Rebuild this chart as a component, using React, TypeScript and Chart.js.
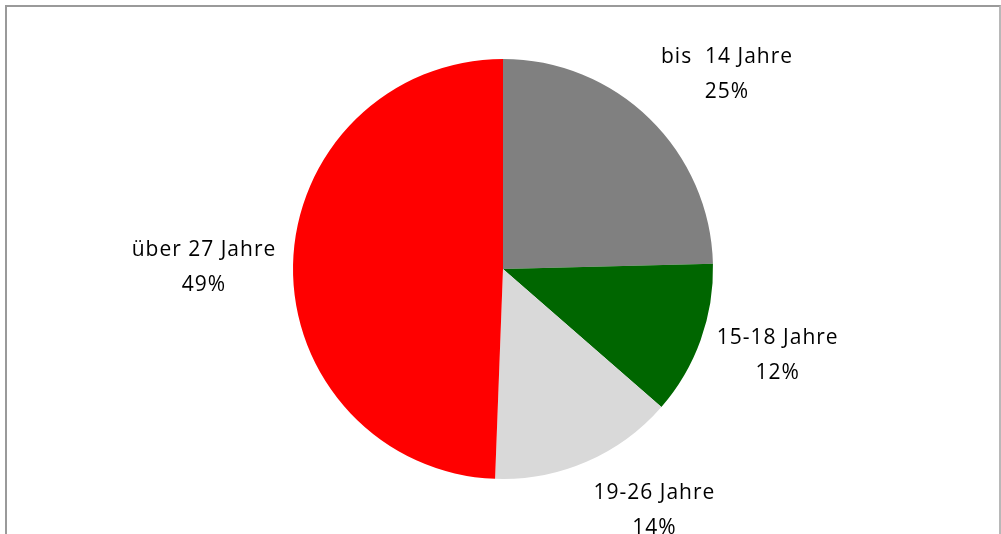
import React, { useEffect, useRef } from "react";
import { Chart, registerables } from "chart.js";

Chart.register(...registerables);

const categories = ["bis  14 Jahre", "15-18 Jahre", "19-26 Jahre", "über 27 Jahre"];
const shares = [24.6, 11.8, 14.2, 49.4];
const percentLabels = ["25%", "12%", "14%", "49%"];
const sliceColors = ["#808080", "#006600", "#D9D9D9", "#FF0000"];

// label placement relative to slice mid-angle: [angle shift in degrees, distance as factor of radius]
const labelShift = [4.7, -2.4, -8.7, -0.8];
const labelDistance = [1.414, 1.371, 1.357, 1.424];

const labelPlugin = {
  id: "outsideLabels",
  afterDraw(chart: any) {
    const ctx = chart.ctx;
    const meta = chart.getDatasetMeta(0);
    ctx.save();
    ctx.font = '21px "Open Sans", sans-serif';
    (ctx as any).letterSpacing = "1px";
    ctx.fillStyle = "#000000";
    ctx.textAlign = "center";
    ctx.textBaseline = "middle";
    meta.data.forEach((arc: any, i: number) => {
      const { x, y, startAngle, endAngle, outerRadius } = arc.getProps(
        ["x", "y", "startAngle", "endAngle", "outerRadius"],
        true
      );
      const mid = (startAngle + endAngle) / 2 + (labelShift[i] * Math.PI) / 180;
      const d = outerRadius * labelDistance[i];
      const cx = x + Math.cos(mid) * d;
      const cy = y + Math.sin(mid) * d;
      ctx.fillText(categories[i], cx, cy - 17.5);
      ctx.fillText(percentLabels[i], cx, cy + 17.5);
    });
    ctx.restore();
  },
};

export default function App() {
  const ref = useRef<HTMLCanvasElement>(null);
  useEffect(() => {
    document.body.style.margin = "0";
    const chart = new Chart(ref.current!, {
      type: "pie",
      data: {
        labels: categories,
        datasets: [
          {
            data: shares,
            backgroundColor: sliceColors,
            borderWidth: 0,
          },
        ],
      },
      options: {
        animation: false,
        responsive: false,
        maintainAspectRatio: false,
        layout: { padding: { top: 59, bottom: 55, left: 293, right: 288 } },
        plugins: {
          legend: { display: false },
          tooltip: { enabled: false },
        },
      },
      plugins: [labelPlugin],
    });
    return () => chart.destroy();
  }, []);
  return (
    <div style={{ position: "relative", width: 1001, height: 534, overflow: "hidden", background: "#fff" }}>
      <div
        style={{
          position: "absolute",
          left: 5,
          top: 5,
          width: 992,
          height: 600,
          borderTop: "2px solid #9a9a9a",
          borderLeft: "2px solid #9a9a9a",
          borderRight: "2px solid #b8b8b8",
        }}
      />
      <canvas ref={ref} width={1001} height={534} style={{ position: "absolute", left: 0, top: 0 }} />
    </div>
  );
}
